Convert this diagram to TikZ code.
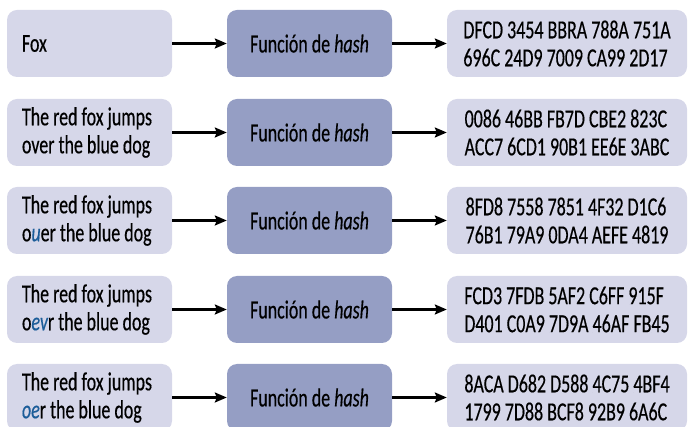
\documentclass[tikz,border=0pt]{standalone}
\usepackage{fontspec}
\setmainfont{Carlito}[FakeStretch=0.69, FakeBold=0.4]
\usetikzlibrary{arrows.meta}
\definecolor{lightbox}{HTML}{D6D7E9}
\definecolor{midbox}{HTML}{959EC4}
\definecolor{hblue}{HTML}{1C5D99}
\newcommand{\hl}[1]{{\color{hblue}\itshape #1}}
\tikzset{
  base/.style={rounded corners=10pt, minimum height=67pt, inner sep=0pt},
  txt/.style={font=\fontsize{26}{28}\selectfont, text=black, inner sep=0pt},
  inbox/.style={base, fill=lightbox, minimum width=165pt},
  intext/.style={txt, anchor=west, align=left},
  hashbox/.style={base, txt, fill=midbox, minimum width=165pt, align=center},
  outbox/.style={base, txt, fill=lightbox, minimum width=240pt, align=left},
  arr/.style={line width=2.2pt, -{Stealth[length=12pt,width=10pt,inset=2pt]}}
}
\begin{document}
\begin{tikzpicture}[x=1pt,y=-1pt]
\useasboundingbox (0,0) rectangle (691,427);
\foreach \i/\y/\txt/\hsh in {
  1/43.5/{Fox}/{DFCD 3454 BBRA 788A 751A\\696C 24D9 7009 CA99 2D17},
  2/132.5/{The red fox jumps\\over the blue dog}/{0086 46BB FB7D CBE2 823C\\ACC7 6CD1 90B1 EE6E 3ABC},
  3/220.5/{The red fox jumps\\o\hl{u}er the blue dog}/{8FD8 7558 7851 4F32 D1C6\\76B1 79A9 0DA4 AEFE 4819},
  4/309.5/{The red fox jumps\\o\hl{ev}r the blue dog}/{FCD3 7FDB 5AF2 C6FF 915F\\D401 C0A9 7D9A 46AF FB45},
  5/397.5/{The red fox jumps\\\hl{oe}r the blue dog}/{8ACA D682 D588 4C75 4BF4\\1799 7D88 BCF8 92B9 6A6C}}
{
  \node[inbox] (in\i) at (89.5,\y) {};
  \node[intext] (t\i) at ([xshift=15pt]in\i.west) {\txt};
  \node[hashbox] (h\i) at (309.5,\y) {Función de \textit{hash}};
  \node[outbox] (out\i) at (567,\y) {\hsh};
  \draw[arr] (in\i) -- (h\i);
  \draw[arr] (h\i) -- (out\i);
}
\end{tikzpicture}
\end{document}
